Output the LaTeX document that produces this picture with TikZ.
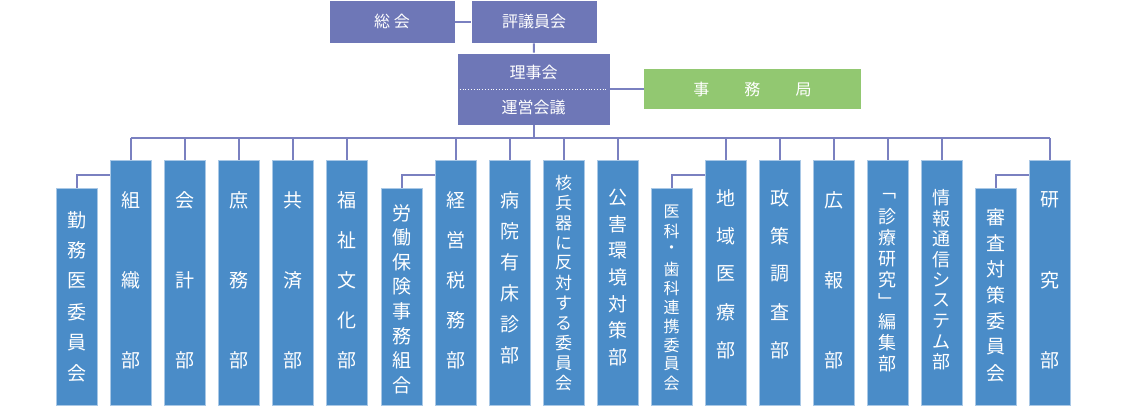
\documentclass[tikz,border=0pt]{standalone}
\usepackage{fontspec}
\setmainfont{Noto Sans CJK JP}
\begin{document}
\definecolor{blu}{HTML}{4A8CC8}
\definecolor{blub}{HTML}{A9C8E6}
\definecolor{pur}{HTML}{6E77B7}
\definecolor{grn}{HTML}{92C871}
\definecolor{lin}{HTML}{7A80C0}
\newcommand\vcol[7]{%
  \pgfmathsetmacro\hh{405-#3}\pgfmathsetmacro\cy{(405+#3)/2}%
  \node[dept,minimum height=\hh pt] (#1) at (#2,\cy) {};
  \foreach \c [count=\i from 0] in {#7}
    \node[vch,font=\fontsize{#6}{#6}\selectfont] at (#2,#4+\i*#5) {\c};
}
\begin{tikzpicture}[x=1pt,y=-1pt,
  dept/.style={draw=blub,line width=0.8pt,fill=blu,minimum width=41pt,inner sep=0pt},
  vch/.style={text=white,inner sep=0pt,anchor=center},
  top/.style={fill=pur,draw=white,line width=0.6pt,text=white,font=\fontsize{16}{16}\selectfont,inner sep=0pt},
  con/.style={draw=lin,line width=2pt}]
\useasboundingbox (0,0) rectangle (1121,405);
\node[top,minimum width=126pt,minimum height=43pt] (sokai) at (392,21.5) {総 会};
\node[top,minimum width=126pt,minimum height=43pt] (hyogi) at (534,21.5) {評議員会};
\node[top,minimum width=153pt,minimum height=72pt] (riji) at (533.5,89) {};
\node[text=white,font=\fontsize{16}{16}\selectfont] (rijit) at (533.5,72) {理事会};
\node[text=white,font=\fontsize{16}{16}\selectfont] (unei) at (533.5,107) {運営会議};
\draw[white,dotted,line width=0.8pt] (riji.west) ++(3,0) -- ([xshift=-3pt]riji.east);
\node[fill=grn,text=white,minimum width=217pt,minimum height=40pt,inner sep=0pt,font=\fontsize{16}{16}\selectfont] (jimu) at (752.5,89) {事\hspace{2.2em}務\hspace{2.2em}局};
\draw[con] (sokai) -- (hyogi);
\draw[con] (hyogi) -- (riji);
\draw[con] (riji) -- (jimu);
\coordinate (bus) at (533.5,138);
\vcol{kinmu}{76.5}{188}{220}{30.6}{19}{勤,務,医,委,員,会}
\vcol{soshiki}{130.5}{160}{200}{80}{19}{組,織,部}
\vcol{kaikei}{184.5}{160}{200}{80}{19}{会,計,部}
\vcol{shomu}{238.5}{160}{200}{80}{19}{庶,務,部}
\vcol{kyosai}{292.5}{160}{200}{80}{19}{共,済,部}
\vcol{fukushi}{346.5}{160}{200}{40}{19}{福,祉,文,化,部}
\vcol{rodo}{401.5}{188}{213}{24.6}{19}{労,働,保,険,事,務,組,合}
\vcol{keiei}{455.5}{160}{200}{40}{19}{経,営,税,務,部}
\vcol{byoin}{509.5}{160}{200}{31}{19}{病,院,有,床,診,部}
\vcol{kaku}{563.5}{160}{183}{20}{17}{核,兵,器,に,反,対,す,る,委,員,会}
\vcol{kogai}{617.5}{160}{198}{26.5}{19}{公,害,環,境,対,策,部}
\vcol{ika}{671.5}{188}{212}{19}{16}{医,科,・,歯,科,連,携,委,員,会}
\vcol{chiiki}{725.5}{160}{198}{38}{19}{地,域,医,療,部}
\vcol{seisaku}{779.5}{160}{198}{38}{19}{政,策,調,査,部}
\vcol{koho}{833.5}{160}{200}{80}{19}{広,報,部}
\vcol{shinryo}{887.5}{160}{196}{21}{18}{﹁,診,療,研,究,﹂,編,集,部}
\vcol{joho}{941.5}{160}{198}{20.5}{18}{情,報,通,信,シ,ス,テ,ム,部}
\vcol{shinsa}{995.5}{188}{217}{26}{19}{審,査,対,策,委,員,会}
\vcol{kenkyu}{1049.5}{160}{200}{80}{19}{研,究,部}
\draw[con] (riji) -- (bus);
\draw[con] (bus -| soshiki.north) -- (bus -| kenkyu.north);
\foreach \d in {soshiki,kaikei,shomu,kyosai,fukushi,keiei,byoin,kaku,kogai,chiiki,seisaku,koho,shinryo,joho,kenkyu}
  \draw[con] (bus -| \d.north) -- (\d.north);
\draw[con] (kinmu.north) |- ([yshift=-15pt]soshiki.north west);
\draw[con] (rodo.north) |- ([yshift=-15pt]keiei.north west);
\draw[con] (ika.north) |- ([yshift=-15pt]chiiki.north west);
\draw[con] (shinsa.north) |- ([yshift=-15pt]kenkyu.north west);
\end{tikzpicture}
\end{document}
